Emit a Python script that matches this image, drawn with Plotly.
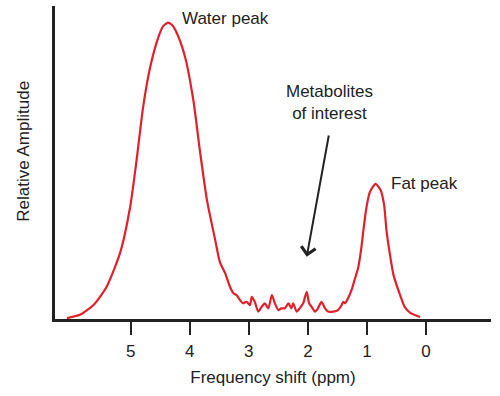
import plotly.graph_objects as go

# Frequency shift (ppm) and relative amplitude
ppm = [6.08, 5.86, 5.63, 5.41, 5.18, 5.01, 4.90, 4.79, 4.67, 4.53, 4.45, 4.37, 4.30, 4.22, 4.08, 3.94, 3.83, 3.71,
       3.57, 3.49,
       3.40, 3.32, 3.26, 3.21, 3.15, 3.10, 3.04, 2.98, 2.95, 2.90, 2.84, 2.78, 2.73, 2.67, 2.61, 2.56, 2.50, 2.45,
       2.39, 2.33, 2.28, 2.25, 2.19, 2.14, 2.08, 2.02, 1.98, 1.94, 1.88, 1.83, 1.77, 1.71, 1.66, 1.57, 1.49, 1.43,
       1.40, 1.37, 1.32, 1.26, 1.21, 1.15, 1.10, 1.06, 1.01, 0.95, 0.855, 0.77, 0.71, 0.67, 0.61, 0.55, 0.44,
       0.36, 0.26, 0.10]
amplitude = [0.3, 1.4, 4.7, 10.8, 22.3, 37.8, 53.7, 71.5, 85.0, 95.2, 98.8, 100.0, 99.2, 96.5, 88.4, 73.9, 57.0, 40.2,
             26.7, 19.2,
             15.4, 10.9, 8.7, 8.1, 6.4, 5.3, 5.8, 4.7, 7.5, 5.8, 2.5, 4.2, 5.3, 3.6, 8.1, 5.3, 3.0, 3.6,
             3.6, 5.3, 3.6, 5.3, 2.5, 3.6, 5.3, 9.2, 5.3, 4.2, 2.5, 3.6, 5.8, 3.6, 2.5, 2.5, 3.0, 4.7,
             5.8, 5.3, 7.0, 9.8, 13.2, 17.2, 23.3, 30.0, 37.5, 42.9, 45.6, 43.5, 38.5, 30.0, 21.6, 14.8, 8.1,
             4.0, 2.0, 0.7]

tick_vals = [5, 4, 3, 2, 1, 0]
tick_text = ["5", "4", "3", "2", "1", "0"]

FONT = "Arial, Liberation Sans, sans-serif"
TXT = "#222222"

fig = go.Figure()
fig.add_trace(go.Scatter(x=ppm, y=amplitude, mode="lines",
                         line=dict(color="#e0202a", width=2.2, shape="spline", smoothing=0.6),
                         hoverinfo="skip", showlegend=False))

fig.update_layout(
    width=500, height=396,
    margin=dict(l=55, r=9, t=6, b=77),
    paper_bgcolor="white", plot_bgcolor="white",
    font=dict(family=FONT, size=17, color=TXT),
    xaxis=dict(range=[6.282, -1.10], tickvals=tick_vals, ticktext=tick_text,
               ticks="outside", ticklen=13, tickwidth=1.6, tickcolor=TXT,
               showline=True, linewidth=2.6, linecolor=TXT, showgrid=False, zeroline=False,
               ticklabelstandoff=2,
               title=dict(text="Frequency shift (ppm)", standoff=11, font=dict(size=17))),
    yaxis=dict(range=[0, 105.6], showticklabels=False, ticks="", showline=True,
               linewidth=2.6, linecolor=TXT, showgrid=False, zeroline=False),
    annotations=[
        dict(text="Relative Amplitude", xref="paper", yref="paper", x=-0.073, y=0.535,
             xanchor="center", yanchor="middle", textangle=-90, showarrow=False,
             font=dict(size=17, color=TXT)),
        dict(text="Water peak", xref="x", yref="y", x=4.16, y=101.5, xanchor="left",
             yanchor="middle", showarrow=False),
        dict(text="Fat peak", xref="x", yref="y", x=0.627, y=45.6, xanchor="left",
             yanchor="middle", showarrow=False),
        dict(text="Metabolites<br>of interest", xref="x", yref="y", x=1.642, y=73.2,
             xanchor="center", yanchor="middle", showarrow=False),
        dict(text="", xref="x", yref="y", x=2.020, y=21.0, axref="x", ayref="y",
             ax=1.642, ay=62.4, showarrow=True, arrowhead=4, arrowsize=1.4,
             arrowwidth=2, arrowcolor=TXT),
    ],
)

fig.write_html("out.html", config={"displayModeBar": False},
               post_script="document.body.style.margin='0';document.body.style.padding='0';")
